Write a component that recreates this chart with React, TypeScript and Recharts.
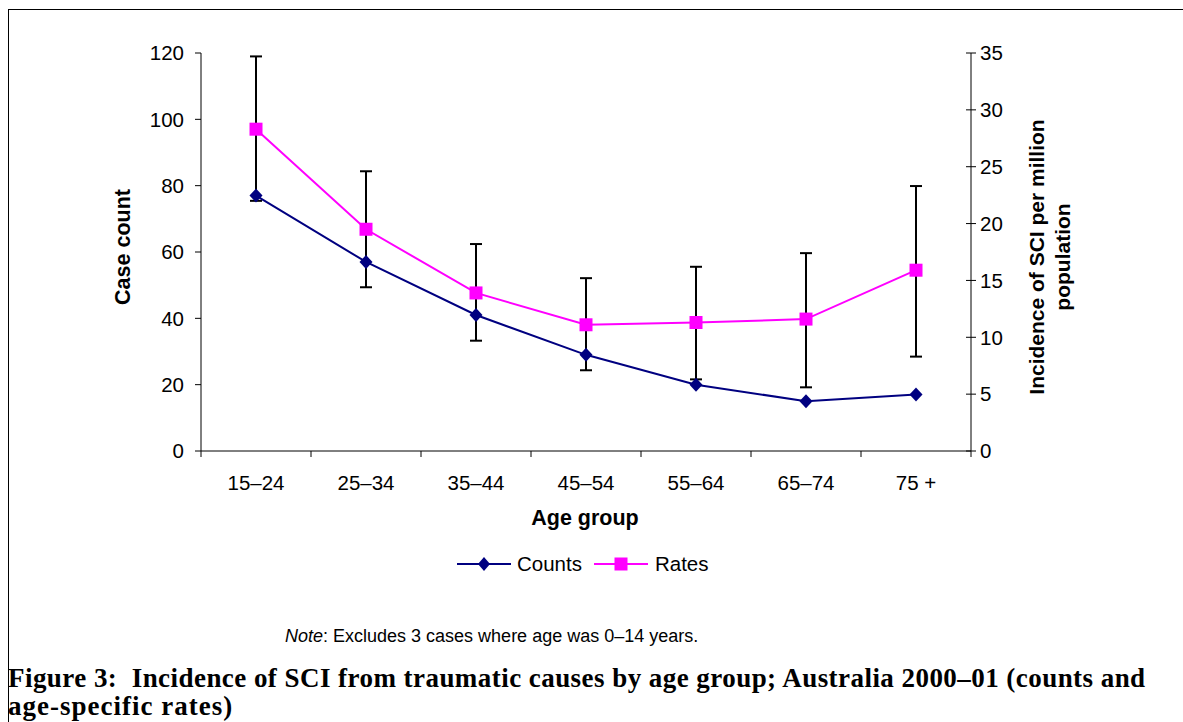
import React from 'react';
import { LineChart, Line, XAxis, YAxis, ErrorBar } from 'recharts';

// values
const ageGroups = ['15–24', '25–34', '35–44', '45–54', '55–64', '65–74', '75 +'];
const counts = [77, 57, 41, 29, 20, 15, 17];
const rates = [28.3, 19.5, 13.9, 11.1, 11.3, 11.6, 15.9];
const rateLow = [22.0, 14.4, 9.7, 7.1, 6.3, 5.6, 8.3];
const rateHigh = [34.7, 24.6, 18.2, 15.2, 16.2, 17.4, 23.3];
const countTicks = [0, 20, 40, 60, 80, 100, 120];
const rateTicks = [0, 5, 10, 15, 20, 25, 30, 35];

const data = ageGroups.map((age, i) => ({
  age,
  counts: counts[i],
  rates: rates[i],
  rateErr: [rates[i] - rateLow[i], rateHigh[i] - rates[i]],
}));

const FONT = '"Liberation Sans", Arial, sans-serif';
const SERIF = '"Liberation Serif", "Times New Roman", serif';
const NAVY = '#000080';
const MAGENTA = '#FF00FF';

const DiamondDot = (props: any) => {
  const { cx, cy, index } = props;
  if (cx == null || cy == null) return <g key={`d-${index}`} />;
  return (
    <polygon
      key={`d-${index}`}
      points={`${cx},${cy - 7} ${cx + 6.5},${cy} ${cx},${cy + 7} ${cx - 6.5},${cy}`}
      fill={NAVY}
    />
  );
};

const SquareDot = (props: any) => {
  const { cx, cy, index } = props;
  if (cx == null || cy == null) return <g key={`s-${index}`} />;
  return <rect key={`s-${index}`} x={cx - 6.5} y={cy - 6.5} width={13} height={13} fill={MAGENTA} />;
};

// category ticks: label at centre, tick marks on the band edges
const AgeTick = (props: any) => {
  const { x, y, payload, index } = props;
  const off = payload && payload.offset ? payload.offset : 55;
  return (
    <g>
      <line x1={x - off} y1={y} x2={x - off} y2={y + 6} stroke="#000" strokeWidth={1} />
      {index === ageGroups.length - 1 && (
        <line x1={x + off} y1={y} x2={x + off} y2={y + 6} stroke="#000" strokeWidth={1} />
      )}
      <text x={x} y={y + 24} dy="0.71em" textAnchor="middle" fontSize={20.5} fontFamily={FONT} fill="#000">
        {payload.value}
      </text>
    </g>
  );
};

// right axis: crossing tick marks like the original
const RateTick = (props: any) => {
  const { x, y, payload } = props;
  return (
    <g>
      <line x1={x - 14} y1={y} x2={x - 4} y2={y} stroke="#000" strokeWidth={1} />
      <text x={x} y={y} dy="0.355em" textAnchor="start" fontSize={20.5} fontFamily={FONT} fill="#000">
        {payload.value}
      </text>
    </g>
  );
};

const LegendIcon = ({ color, square }: { color: string; square?: boolean }) => (
  <svg width={54} height={16} style={{ display: 'block' }}>
    <line x1={0} y1={8} x2={54} y2={8} stroke={color} strokeWidth={2} />
    {square ? (
      <rect x={20.5} y={1.5} width={13} height={13} fill={color} />
    ) : (
      <polygon points="27,1 33,8 27,15 21,8" fill={color} />
    )}
  </svg>
);

export default function App() {
  return (
    <div style={{ position: 'absolute', left: 0, top: 0, width: 1183, height: 722, background: '#fff', overflow: 'hidden' }}>
      {/* frame */}
      <div
        style={{
          position: 'absolute',
          left: 8,
          top: 9,
          width: 1180,
          height: 720,
          borderTop: '1.5px solid #000',
          borderLeft: '1.5px solid #000',
        }}
      />

      <div style={{ position: 'absolute', left: 0, top: 0 }}>
        <LineChart width={1183} height={500} data={data} margin={{ top: 53, right: 0, bottom: 0, left: 0 }}>
          <XAxis
            dataKey="age"
            scale="band"
            interval={0}
            height={49}
            tickSize={0}
            tickMargin={0}
            tickLine={false}
            axisLine={{ stroke: '#000', strokeWidth: 1 }}
            tick={<AgeTick />}
          />
          <YAxis
            yAxisId="left"
            orientation="left"
            width={201}
            domain={[0, 120]}
            ticks={countTicks}
            interval={0}
            tickSize={6}
            tickMargin={11}
            axisLine={{ stroke: '#000', strokeWidth: 1 }}
            tickLine={{ stroke: '#000', strokeWidth: 1 }}
            tick={{ fill: '#000', fontSize: 20.5, fontFamily: FONT }}
          />
          <YAxis
            yAxisId="right"
            orientation="right"
            width={212}
            domain={[0, 35]}
            ticks={rateTicks}
            interval={0}
            tickSize={5}
            tickMargin={4}
            tickLine={false}
            axisLine={{ stroke: '#000', strokeWidth: 1 }}
            tick={<RateTick />}
          />
          <Line
            yAxisId="right"
            dataKey="rates"
            stroke={MAGENTA}
            strokeWidth={2}
            dot={(p: any) => <SquareDot {...p} key={`s-${p.index}`} />}
            activeDot={false}
            isAnimationActive={false}
          >
            <ErrorBar dataKey="rateErr" direction="y" width={6} stroke="#000" strokeWidth={2} isAnimationActive={false} />
          </Line>
          <Line
            yAxisId="left"
            dataKey="counts"
            stroke={NAVY}
            strokeWidth={2}
            dot={(p: any) => <DiamondDot {...p} key={`d-${p.index}`} />}
            activeDot={false}
            isAnimationActive={false}
          />
        </LineChart>
      </div>

      {/* axis titles */}
      <div
        style={{
          position: 'absolute',
          left: 123,
          top: 247,
          transform: 'translate(-50%, -50%) rotate(-90deg)',
          fontFamily: FONT,
          fontWeight: 'bold',
          fontSize: 21.5,
          whiteSpace: 'nowrap',
          color: '#000',
        }}
      >
        Case count
      </div>
      <div
        style={{
          position: 'absolute',
          left: 585,
          top: 518,
          transform: 'translate(-50%, -50%)',
          fontFamily: FONT,
          fontWeight: 'bold',
          fontSize: 21.5,
          whiteSpace: 'nowrap',
          color: '#000',
        }}
      >
        Age group
      </div>
      <div
        style={{
          position: 'absolute',
          left: 1050,
          top: 257,
          transform: 'translate(-50%, -50%) rotate(-90deg)',
          fontFamily: FONT,
          fontWeight: 'bold',
          fontSize: 21,
          lineHeight: '26px',
          textAlign: 'center',
          whiteSpace: 'nowrap',
          color: '#000',
        }}
      >
        Incidence of SCI per million
        <br />
        population
      </div>

      {/* legend */}
      <div
        style={{
          position: 'absolute',
          left: 457,
          top: 552,
          height: 24,
          display: 'flex',
          alignItems: 'center',
          fontFamily: FONT,
          fontSize: 20.5,
          color: '#000',
          whiteSpace: 'nowrap',
        }}
      >
        <LegendIcon color={NAVY} />
        <span style={{ marginLeft: 6 }}>Counts</span>
        <span style={{ marginLeft: 12 }}>
          <LegendIcon color={MAGENTA} square />
        </span>
        <span style={{ marginLeft: 7 }}>Rates</span>
      </div>

      {/* note */}
      <div
        style={{
          position: 'absolute',
          left: 285,
          top: 626,
          fontFamily: FONT,
          fontSize: 18,
          color: '#000',
          whiteSpace: 'nowrap',
        }}
      >
        <i>Note</i>: Excludes 3 cases where age was 0–14 years.
      </div>

      {/* caption */}
      <div
        style={{
          position: 'absolute',
          left: 8,
          top: 664,
          width: 1170,
          fontFamily: SERIF,
          fontWeight: 'bold',
          fontSize: 27,
          lineHeight: '28px',
          color: '#000',
          whiteSpace: 'pre',
        }}
      >
        <div style={{ letterSpacing: 0.45 }}>
          {'Figure 3:  Incidence of SCI from traumatic causes by age group; Australia 2000–01 (counts and'}
        </div>
        <div style={{ letterSpacing: 1 }}>{'age-specific rates)'}</div>
      </div>
    </div>
  );
}
